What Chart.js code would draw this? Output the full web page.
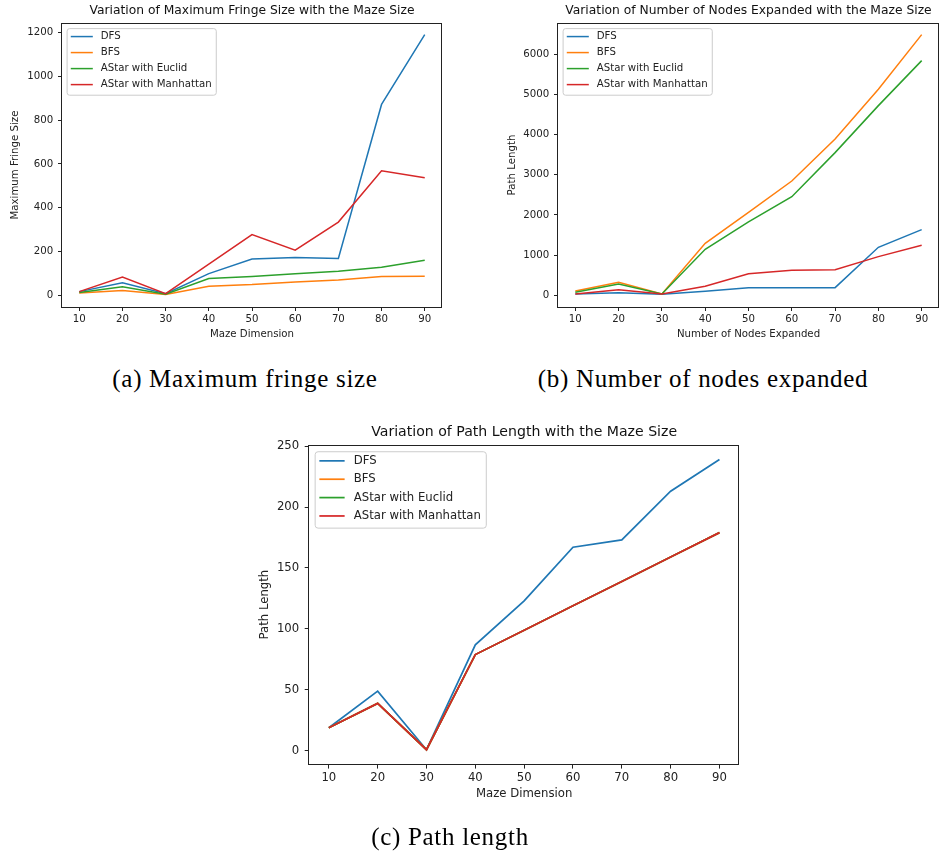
<!DOCTYPE html>
<html>
<head>
<meta charset="utf-8">
<script src="https://cdn.jsdelivr.net/npm/chart.js@4.4.0/dist/chart.umd.min.js"></script>
<style>
  html, body { margin: 0; padding: 0; background: #fff; width: 940px; height: 854px; overflow: hidden; }
  canvas { position: absolute; }
  .caption {
    position: absolute; width: 400px; text-align: center;
    font-family: 'Liberation Serif', serif; font-size: 25px; line-height: 25px; color: #000;
    letter-spacing: 0.7px;
  }
</style>
</head>
<body>
<canvas id="fringeChart" width="470" height="350" style="left:0;top:0"></canvas>
<canvas id="nodesChart" width="470" height="350" style="left:470px;top:0"></canvas>
<canvas id="pathChart" width="520" height="444" style="left:240px;top:410px"></canvas>
<div class="caption" style="left:45px;top:366px">(a) Maximum fringe size</div>
<div class="caption" style="left:503px;top:366px">(b) Number of nodes expanded</div>
<div class="caption" style="left:250px;top:824px">(c) Path length</div>
<script>
// Maze search comparison - three line charts (matplotlib look)

const MAZE_DIMS = [10, 20, 30, 40, 50, 60, 70, 80, 90];
const SERIES_NAMES = ['DFS', 'BFS', 'AStar with Euclid', 'AStar with Manhattan'];

// (a) maximum fringe size
const FRINGE_DFS = [18, 58, 9, 100, 167, 173, 169, 871, 1189];
const FRINGE_BFS = [12, 23, 5, 43, 50, 62, 71, 87, 88];
const FRINGE_EUCLID = [14, 40, 6, 78, 87, 99, 111, 129, 161];
const FRINGE_MANHATTAN = [18, 84, 9, 143, 278, 207, 335, 569, 537];
const FRINGE_TICKS = [0, 200, 400, 600, 800, 1000, 1200];

// (b) number of nodes expanded
const NODES_DFS = [33, 66, 25, 100, 191, 191, 191, 1195, 1635];
const NODES_BFS = [108, 324, 33, 1295, 2066, 2846, 3892, 5129, 6490];
const NODES_EUCLID = [75, 282, 33, 1145, 1826, 2456, 3552, 4722, 5842];
const NODES_MANHATTAN = [33, 141, 33, 224, 539, 622, 639, 963, 1245];
const NODES_TICKS = [0, 1000, 2000, 3000, 4000, 5000, 6000];

// (c) path length
const PATH_DFS = [19, 49, 1, 87, 123, 167, 173, 213, 239];
const PATH_BFS = [19, 39, 1, 79, 99, 119, 139, 159, 179];
const PATH_EUCLID = [19, 39, 1, 79, 99, 119, 139, 159, 179];
const PATH_MANHATTAN = [19, 39, 1, 79, 99, 119, 139, 159, 179];
const PATH_TICKS = [0, 50, 100, 150, 200, 250];

// matplotlib tab10
const COLORS = ['#1f77b4', '#ff7f0e', '#2ca02c', '#d62728'];
const FONT = "'DejaVu Sans', sans-serif";
const TEXT_COLOR = '#222';

/**
 * Box around the plot area (all four spines)
 */
const axesFrame = {
    id: 'axesFrame',
    afterDatasetsDraw(chart) {
        const { ctx, chartArea: a } = chart;
        const l = Math.round(a.left) - 0.5, t = Math.round(a.top) + 0.5;
        const r = Math.round(a.right) - 0.5, b = Math.round(a.bottom) + 0.5;
        ctx.save();
        ctx.strokeStyle = TEXT_COLOR;
        ctx.lineWidth = 1;
        ctx.strokeRect(l, t, r - l, b - t);
        ctx.restore();
    }
};

/**
 * Framed legend in the upper left corner of the plot area
 */
const boxLegend = {
    id: 'boxLegend',
    afterDraw(chart, args, opts) {
        const { ctx, chartArea: a } = chart;
        const fs = opts.fontSize;
        const datasets = chart.data.datasets;
        ctx.save();
        ctx.font = `${fs}px ${FONT}`;
        const textW = Math.max(...datasets.map(d => ctx.measureText(d.label).width));
        const x0 = a.left + 0.5 * fs;
        const y0 = a.top + 0.55 * fs;
        const rowH = 1.57 * fs;
        const handle = 2.16 * fs;
        const w = 0.36 * fs + handle + 0.78 * fs + textW + 0.46 * fs;
        const h = 0.78 * fs + rowH * (datasets.length - 1) + 1.04 * fs;

        ctx.beginPath();
        ctx.roundRect(x0, y0, w, h, 0.25 * fs);
        ctx.fillStyle = 'rgba(255, 255, 255, 0.8)';
        ctx.fill();
        ctx.strokeStyle = '#cccccc';
        ctx.lineWidth = 1;
        ctx.stroke();

        datasets.forEach((ds, i) => {
            const cy = y0 + 0.78 * fs + i * rowH;
            const hx = x0 + 0.36 * fs;
            ctx.strokeStyle = ds.borderColor;
            ctx.lineWidth = ds.borderWidth;
            ctx.beginPath();
            ctx.moveTo(hx, cy);
            ctx.lineTo(hx + handle, cy);
            ctx.stroke();
            ctx.fillStyle = TEXT_COLOR;
            ctx.textBaseline = 'middle';
            ctx.textAlign = 'left';
            ctx.fillText(ds.label, hx + handle + 0.78 * fs, cy);
        });
        ctx.restore();
    }
};

/**
 * Build line datasets, later series drawn on top (matplotlib order)
 */
function buildDatasets(seriesList, lineWidth) {
    return seriesList.map((values, i) => ({
        label: SERIES_NAMES[i],
        data: values.map((v, j) => ({ x: MAZE_DIMS[j], y: v })),
        borderColor: COLORS[i],
        backgroundColor: COLORS[i],
        borderWidth: lineWidth,
        pointRadius: 0,
        tension: 0,
        fill: false,
        order: seriesList.length - i
    }));
}

/**
 * Create one maze chart
 * @param {string} canvasId - Canvas element ID
 * @param {Array} series - four value arrays
 * @param {Array} yTicks - y tick values
 * @param {Object} g - layout (page pixel coordinates)
 */
function createMazeChart(canvasId, series, yTicks, g) {
    const canvas = document.getElementById(canvasId);
    const s = g.scale;
    const tickSize = 10.2 * s;
    const titleSize = 12.3 * s;
    const tickLH = tickSize * 1.2;
    const titleLH = titleSize * 1.2;

    // plot area relative to canvas
    const left = g.plot[0] - g.origin[0];
    const top = g.plot[1] - g.origin[1];
    const right = g.plot[2] - g.origin[0];
    const bottom = g.plot[3] - g.origin[1];

    const titleTop = g.titleY - g.origin[1] - titleLH / 2;
    const titleBottom = top - titleTop - titleLH;
    const xAxisH = g.xTitleY - g.origin[1] + tickLH / 2 - bottom;
    const padBottom = canvas.height - bottom - xAxisH;
    const yTitlePad = g.yTitleX - g.origin[0] - tickLH / 2;

    const tickMark = {
        display: true,
        drawOnChartArea: false,
        drawTicks: true,
        tickLength: 4 * s,
        tickWidth: 1,
        tickColor: TEXT_COLOR
    };

    return new Chart(canvas, {
        type: 'line',
        data: { datasets: buildDatasets(series, 1.5 * s) },
        options: {
            responsive: false,
            animation: false,
            devicePixelRatio: 1,
            layout: { padding: { left: 0, top: 0, right: canvas.width - right, bottom: padBottom } },
            plugins: {
                legend: { display: false },
                tooltip: { enabled: false },
                title: {
                    display: true,
                    text: g.title,
                    fullSize: false,
                    color: '#111',
                    font: { family: FONT, size: titleSize, weight: 'normal', lineHeight: 1.2 },
                    padding: { top: titleTop, bottom: titleBottom }
                },
                boxLegend: { fontSize: tickSize }
            },
            scales: {
                x: {
                    type: 'linear',
                    min: 6,
                    max: 94,
                    afterBuildTicks: sc => { sc.ticks = MAZE_DIMS.map(v => ({ value: v })); },
                    afterFit: sc => { sc.height = xAxisH; },
                    ticks: {
                        color: TEXT_COLOR,
                        padding: 2.2 * s,
                        maxRotation: 0,
                        font: { family: FONT, size: tickSize, lineHeight: 1.2 },
                        callback: v => String(v)
                    },
                    grid: tickMark,
                    border: { display: false },
                    title: {
                        display: true,
                        text: g.xTitle,
                        color: TEXT_COLOR,
                        padding: 0,
                        font: { family: FONT, size: tickSize, lineHeight: 1.2 }
                    }
                },
                y: {
                    type: 'linear',
                    min: g.yRange[0],
                    max: g.yRange[1],
                    afterBuildTicks: sc => { sc.ticks = yTicks.map(v => ({ value: v })); },
                    afterFit: sc => { sc.width = left; },
                    ticks: {
                        color: TEXT_COLOR,
                        padding: 4.8 * s,
                        font: { family: FONT, size: tickSize, lineHeight: 1.2 },
                        callback: v => String(v)
                    },
                    grid: tickMark,
                    border: { display: false },
                    title: {
                        display: true,
                        text: g.yTitle,
                        color: TEXT_COLOR,
                        padding: { top: yTitlePad, bottom: 0 },
                        font: { family: FONT, size: tickSize, lineHeight: 1.2 }
                    }
                }
            }
        },
        plugins: [axesFrame, boxLegend]
    });
}

createMazeChart('fringeChart',
    [FRINGE_DFS, FRINGE_BFS, FRINGE_EUCLID, FRINGE_MANHATTAN], FRINGE_TICKS, {
        origin: [0, 0], plot: [62, 23, 442, 307], scale: 1,
        title: 'Variation of Maximum Fringe Size with the Maze Size',
        xTitle: 'Maze Dimension', yTitle: 'Maximum Fringe Size',
        titleY: 11, xTitleY: 334, yTitleX: 15, yRange: [-52, 1242]
    });

createMazeChart('nodesChart',
    [NODES_DFS, NODES_BFS, NODES_EUCLID, NODES_MANHATTAN], NODES_TICKS, {
        origin: [470, 0], plot: [558, 23, 939, 307], scale: 1,
        title: 'Variation of Number of Nodes Expanded with the Maze Size',
        xTitle: 'Number of Nodes Expanded', yTitle: 'Path Length',
        titleY: 11, xTitleY: 334, yTitleX: 512.7, yRange: [-291, 6779]
    });

createMazeChart('pathChart',
    [PATH_DFS, PATH_BFS, PATH_EUCLID, PATH_MANHATTAN], PATH_TICKS, {
        origin: [240, 410], plot: [309.3, 445.3, 739, 764], scale: 1.147,
        title: 'Variation of Path Length with the Maze Size',
        xTitle: 'Maze Dimension', yTitle: 'Path Length',
        titleY: 432.3, xTitleY: 794.3, yTitleX: 265, yRange: [-10.7, 250.6]
    });
</script>
</body>
</html>
